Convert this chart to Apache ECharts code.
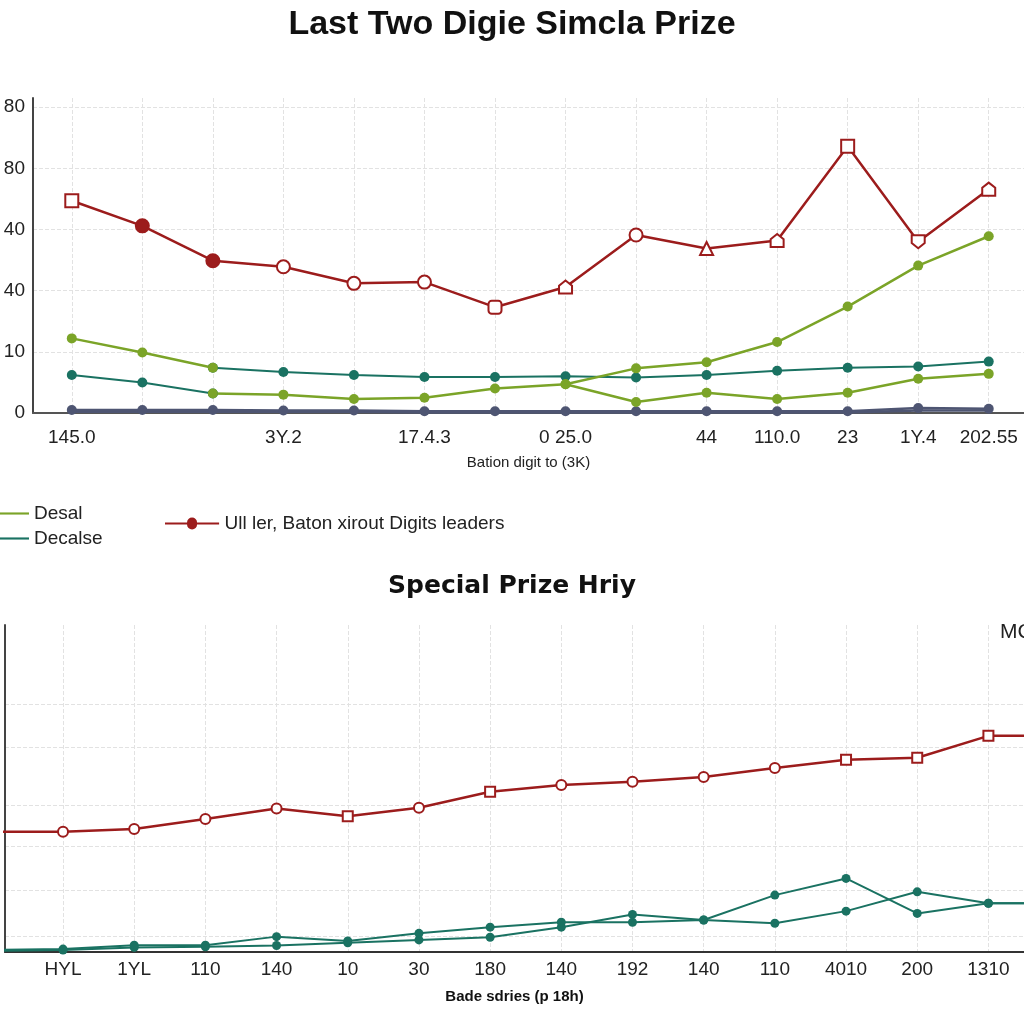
<!DOCTYPE html>
<html><head><meta charset="utf-8">
<script src="https://cdn.jsdelivr.net/npm/echarts@6/dist/echarts.min.js"></script>
<style>html,body{margin:0;padding:0;background:#fff}#c{width:1024px;height:1024px}</style>
</head><body><div id="c"></div>
<script>
// ---------- data ----------
const topCategories = ["145.0","","","3Y.2","","17.4.3","","0 25.0","","44","110.0","23","1Y.4","202.55"];
const topYLabels = ["0","10","40","40","80","80"];
const redTop      = [3.47,3.06,2.49,2.39,2.12,2.14,1.73,2.06,2.91,2.69,2.82,4.36,2.80,3.66];
const greenUpper  = [1.22,0.99,0.74,null,null,null,null,0.47,0.73,0.83,1.16,1.74,2.41,2.89];
const greenLower  = [null,null,0.32,0.30,0.23,0.25,0.40,0.47,0.18,0.33,0.23,0.33,0.56,0.64];
const tealLeft    = [0.62,0.50,0.32,null,null,null,null,null,null,null,null,null,null,null];
const tealMain    = [null,null,0.74,0.67,0.62,0.59,0.59,0.60,0.58,0.62,0.69,0.74,0.76,0.84];
const grayA       = [0.05,0.05,0.05,0.04,0.04,0.03,0.03,0.03,0.03,0.03,0.03,0.03,0.08,0.07];
const grayB       = [0.02,0.02,0.02,0.02,0.02,0.01,0.01,0.01,0.01,0.01,0.01,0.01,0.04,0.04];

const bottomCategories = ["HYL","1YL","110","140","10","30","180","140","192","140","110","4010","200","1310"];
// bottom series: first value is the lead-in (before first category), last value the tail (after last category)
const redBottom   = [36.8,36.8,37.6,40.7,43.9,41.5,44.1,49.0,51.1,52.1,53.5,56.3,58.8,59.4,66.1,66.1];
const tealBottomA = [0.6,0.9,2.1,2.1,4.7,3.4,5.7,7.6,9.1,9.1,9.8,8.8,12.5,18.4,14.9,14.9];
const tealBottomB = [0.3,0.6,1.4,1.6,2.0,2.8,3.7,4.5,7.6,11.5,9.8,17.4,22.5,11.8,14.9,14.9];
const bottomGridValues = [4.9,19,32.4,45,62.7,75.8];

// ---------- styles ----------
const F = "'Liberation Sans',Arial,sans-serif";
const RED = '#9c1c1c', GREEN = '#7ba428', TEAL = '#1a7262', GRAY = '#4e5572';
const P_UP = 'path://M5,0 L10,4 L10,10 L0,10 L0,4 Z';
const P_DOWN = 'path://M0,0 L10,0 L10,6 L5,10 L0,6 Z';
const redTopShapes = ['rect','circle','circle','circle','circle','circle','roundRect',P_UP,'circle','triangle',P_UP,'rect',P_DOWN,P_UP];
const redTopFilled = [1,2];
const redBottomShapes = ['emptyCircle','emptyCircle','emptyCircle','emptyCircle','emptyRect','emptyCircle','emptyRect','emptyCircle','emptyCircle','emptyCircle','emptyCircle','emptyRect','emptyRect','emptyRect'];
const LINE_ICON = 'path://M0,0 L30,0 L30,2 L0,2 Z';
const RED_ICON = 'path://M0,5 L22.4,5 A5.1,5.1 0 0 1 32.6,5 L55,5 L55,7 L32.6,7 A5.1,5.1 0 0 1 22.4,7 L0,7 Z';

const idxTop = topCategories.map((_, i) => i);
const idxBottom = bottomCategories.map((_, i) => i);
const toPts = arr => arr.map((v, i) => [i, v]);
const toPtsOffset = arr => arr.map((v, i) => [i - 1, v]);

function lineSeries(name, arr, color, width, symSize, gi) {
  return {
    type: 'line', name, data: toPts(arr), xAxisIndex: gi, yAxisIndex: gi,
    symbol: 'circle', symbolSize: symSize, showSymbol: symSize > 0,
    lineStyle: { color, width }, itemStyle: { color }, connectNulls: false, z: 3
  };
}

const chart = echarts.init(document.getElementById('c'));
const redName = 'Ull ler, Baton xirout Digits leaders';

const option = {
  animation: false,
  backgroundColor: '#fff',
  title: [
    { text: 'Last Two Digie Simcla Prize', left: 'center', top: 8, padding: 0,
      textStyle: { fontFamily: "'Liberation Sans',Arial,sans-serif", fontSize: 34, fontWeight: 'bold', color: '#111' } },
    { text: 'Special Prize Hriy', left: 'center', top: 574, padding: 0,
      textStyle: { fontFamily: "'DejaVu Sans',sans-serif", fontSize: 25, fontWeight: 'bold', color: '#111' } }
  ],
  legend: [
    { data: [{ name: 'Desal', icon: LINE_ICON }, { name: 'Decalse', icon: LINE_ICON }],
      orient: 'vertical', left: -8, top: 499, itemWidth: 32, itemHeight: 14, itemGap: 6,
      selectedMode: false, textStyle: { fontFamily: F, fontSize: 19, color: '#222' } },
    { data: [{ name: redName, icon: RED_ICON, itemStyle: { color: RED, borderWidth: 0 } }],
      left: 160, top: 509, itemWidth: 55, itemHeight: 12,
      selectedMode: false, textStyle: { fontFamily: F, fontSize: 19, color: '#222' } }
  ],
  graphic: [
    { type: 'text', left: 1000, top: 622, style: { text: 'MC', fontFamily: F, fontSize: 21, fill: '#222' } }
  ],
  grid: [
    { left: 33, right: 0, top: 98, bottom: 611 },
    { left: 5, right: 0, top: 625, bottom: 72 }
  ],
  xAxis: [
    { gridIndex: 0, type: 'value', min: -0.55, max: 13.5,
      axisLine: { show: true, onZero: false, lineStyle: { color: '#555', width: 2 } },
      axisTick: { show: false, customValues: idxTop },
      axisLabel: { customValues: idxTop, formatter: v => topCategories[Math.round(v)], margin: 15,
        fontFamily: F, fontSize: 19, color: '#222' },
      splitLine: { show: true, lineStyle: { color: '#e2e2e2', type: 'dashed', width: 1 } },
      name: 'Bation digit to (3K)', nameLocation: 'middle', nameGap: 42,
      nameTextStyle: { fontFamily: F, fontSize: 15, color: '#222' } },
    { gridIndex: 1, type: 'value', min: -0.815, max: 13.5,
      axisLine: { show: true, onZero: false, lineStyle: { color: '#333', width: 2 } },
      axisTick: { show: false, customValues: idxBottom },
      axisLabel: { customValues: idxBottom, formatter: v => bottomCategories[Math.round(v)], margin: 8,
        fontFamily: F, fontSize: 19, color: '#222' },
      splitLine: { show: true, lineStyle: { color: '#e2e2e2', type: 'dashed', width: 1 } },
      name: 'Bade sdries (p 18h)', nameLocation: 'middle', nameGap: 37,
      nameTextStyle: { fontFamily: F, fontSize: 15, color: '#111', fontWeight: 'bold' } }
  ],
  yAxis: [
    { gridIndex: 0, type: 'value', min: 0, max: 5.15,
      axisLine: { show: true, onZero: false, lineStyle: { color: '#444', width: 2 } },
      axisTick: { show: false, customValues: [0,1,2,3,4,5] },
      axisLabel: { customValues: [0,1,2,3,4,5], formatter: v => topYLabels[Math.round(v)], margin: 8,
        fontFamily: F, fontSize: 19, color: '#222' },
      splitLine: { show: true, lineStyle: { color: '#e2e2e2', type: 'dashed', width: 1 } } },
    { gridIndex: 1, type: 'value', min: 0, max: 100,
      axisLine: { show: true, onZero: false, lineStyle: { color: '#444', width: 2 } },
      axisTick: { show: false, customValues: bottomGridValues },
      axisLabel: { show: false, customValues: bottomGridValues },
      splitLine: { show: true, lineStyle: { color: '#e2e2e2', type: 'dashed', width: 1 } } }
  ],
  series: [
    lineSeries('Base', grayB, GRAY, 2.5, 0, 0),
    lineSeries('Base2', grayA, GRAY, 2.5, 10, 0),
    lineSeries('Decalse', tealLeft, TEAL, 2, 10, 0),
    lineSeries('Decalse', tealMain, TEAL, 2, 10, 0),
    lineSeries('Desal', greenLower, GREEN, 2.5, 10, 0),
    lineSeries('Desal', greenUpper, GREEN, 2.5, 10, 0),
    { type: 'line', name: redName, data: toPts(redTop), xAxisIndex: 0, yAxisIndex: 0,
      symbol: (v, p) => redTopShapes[p.dataIndex], symbolSize: 13, showAllSymbol: true,
      lineStyle: { color: RED, width: 2.5 },
      itemStyle: { color: p => redTopFilled.includes(p.dataIndex) ? RED : '#fff', borderColor: RED, borderWidth: 2 },
      z: 4 },
    { type: 'line', name: 'SpB', data: toPtsOffset(tealBottomB), xAxisIndex: 1, yAxisIndex: 1,
      symbol: (v, p) => (p.dataIndex === 0 || p.dataIndex === tealBottomB.length - 1) ? 'none' : 'circle',
      symbolSize: 9, showAllSymbol: true, lineStyle: { color: TEAL, width: 2 }, itemStyle: { color: TEAL } },
    { type: 'line', name: 'SpA', data: toPtsOffset(tealBottomA), xAxisIndex: 1, yAxisIndex: 1,
      symbol: (v, p) => (p.dataIndex === 0 || p.dataIndex === tealBottomA.length - 1) ? 'none' : 'circle',
      symbolSize: 9, showAllSymbol: true, lineStyle: { color: TEAL, width: 2 }, itemStyle: { color: TEAL } },
    { type: 'line', name: 'SpR', data: toPtsOffset(redBottom), xAxisIndex: 1, yAxisIndex: 1,
      symbol: (v, p) => (p.dataIndex === 0 || p.dataIndex === redBottom.length - 1) ? 'none' : redBottomShapes[p.dataIndex - 1],
      symbolSize: 10, showAllSymbol: true, lineStyle: { color: RED, width: 2.5 }, itemStyle: { color: RED } }
  ]
};
chart.setOption(option);
</script></body></html>
